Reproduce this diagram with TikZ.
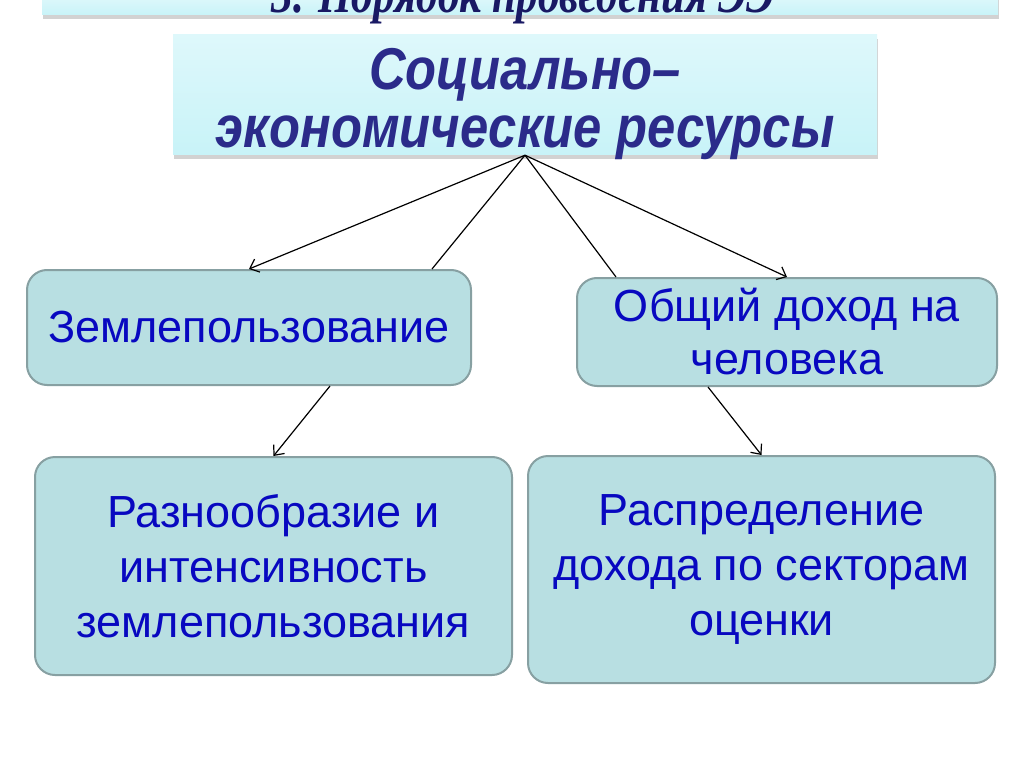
\documentclass[tikz,border=0pt]{standalone}
\usepackage{fontspec}
\setmainfont{Liberation Sans}
\newfontfamily\headfont[FakeStretch=0.86]{Liberation Sans}
\newfontfamily\barfont[FakeStretch=0.8]{Liberation Serif}
\usetikzlibrary{arrows.meta,shadows}

\definecolor{boxfill}{RGB}{184,223,226}
\definecolor{boxline}{RGB}{135,160,162}
\definecolor{txtblue}{RGB}{8,8,192}
\definecolor{navy}{RGB}{43,43,138}
\definecolor{barnavy}{RGB}{25,25,100}
\definecolor{capfill}{RGB}{200,243,248}

\tikzset{
	leaf/.style 2 args={draw=boxline, line width=2pt, fill=boxfill, rounded corners=20pt,
		minimum width=#1, minimum height=#2, inner sep=0pt, align=center,
		text=txtblue, font=\fontsize{45}{55}\selectfont},
	link/.style={line width=1.2pt, -{Straight Barb[length=8pt,width=14pt]}},
	plain/.style={line width=1.2pt},
}

\begin{document}
\begin{tikzpicture}[x=1pt,y=-1pt]
	\useasboundingbox[fill=white] (0,0) rectangle (1024,767);
	% heading bar, cut at the top
	\path[top color=white, bottom color=capfill, drop shadow={shadow xshift=1pt,shadow yshift=-4pt,opacity=0.35}]
		(42,-30) rectangle (998,15);
	\node[anchor=base, text=barnavy, font=\barfont\itshape\bfseries\fontsize{54}{60}\selectfont] (bar) at (523,13)
		{3. Порядок проведения ЭЭ};
	% main box
	\node[top color=white!40!capfill, bottom color=capfill, minimum width=704pt, minimum height=120pt,
		inner sep=0pt, drop shadow={shadow xshift=1pt,shadow yshift=-4pt,opacity=0.35}] (main) at (525,95) {};
	\node[align=center, text=navy, font=\headfont\bfseries\itshape\fontsize{59}{58}\selectfont] (maintitle)
		at (525,104) {Социально–\\экономические ресурсы};
	% boxes
	\node[leaf={444pt}{115pt}] (land) at (249,327.5) {Землепользование};
	\node[leaf={420pt}{108pt}, font=\fontsize{45}{53}\selectfont] (income) at (787,332) {Общий доход на\\человека};
	\node[leaf={477pt}{218pt}] (div) at (273.5,566) {Разнообразие и\\интенсивность\\землепользования};
	\node[leaf={467pt}{227pt}] (dist) at (761.5,569.5) {Распределение\\дохода по секторам\\оценки};
	% connectors
	\coordinate (landtop) at ([xshift=183pt]land.north);
	\coordinate (inctop) at ([xshift=40pt]income.north west);
	\draw[link] (main.south) -- (land.north);
	\draw[plain] (main.south) -- (landtop);
	\draw[plain] (main.south) -- (inctop);
	\draw[link] (main.south) -- (income.north);
	\draw[link] ([xshift=81pt]land.south) -- (div.north);
	\draw[link] ([xshift=-79pt]income.south) -- (dist.north);
\end{tikzpicture}
\end{document}
